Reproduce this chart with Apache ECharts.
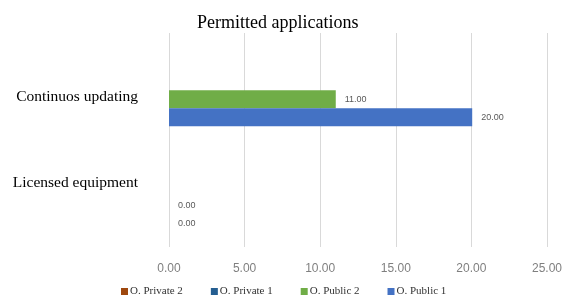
<!DOCTYPE html>
<html>
<head>
<meta charset="utf-8">
<script src="https://cdn.jsdelivr.net/npm/echarts@6/dist/echarts.min.js"></script>
<style>
  html, body { margin: 0; padding: 0; background: #fff; }
  #chart { width: 565px; height: 305px; }
</style>
</head>
<body>
<div id="chart"></div>
<script>
// categories bottom -> top (echarts order)
const categories = ['Licensed equipment', 'Continuos updating'];
const public1 = [0, 20];
const public2 = [0, 11];
const private1 = [null, null];
const private2 = [null, null];
const xTicks = { min: 0, max: 25, interval: 5 };
const legendOrder = ['O. Private 2', 'O. Private 1', 'O. Public 2', 'O. Public 1'];

let myChart = echarts.init(document.getElementById('chart'));

const valueLabel = {
    show: true,
    position: 'right',
    distance: 9,
    fontSize: 9,
    color: '#595959',
    fontFamily: 'Liberation Sans',
    formatter: p => p.value == null ? '' : Number(p.value).toFixed(2)
};

function bar(name, data, color) {
    return {
        name: name,
        type: 'bar',
        data: data,
        barWidth: 18,
        barGap: '0%',
        itemStyle: { color: color },
        label: valueLabel
    };
}

let option = {
    animation: false,
    title: {
        text: 'Permitted applications',
        left: 192,
        top: 9,
        textStyle: { fontFamily: 'Liberation Serif', fontSize: 18, fontWeight: 'normal', color: '#000' }
    },
    grid: [
        { left: 169, right: 17, top: 37, bottom: 55 },   // bars
        { left: 169, right: 17, top: 33, bottom: 58 }    // gridlines + tick labels
    ],
    xAxis: [
        {
            type: 'value', gridIndex: 0,
            min: xTicks.min, max: xTicks.max, interval: xTicks.interval,
            axisLine: { show: false }, axisTick: { show: false },
            splitLine: { show: false }, axisLabel: { show: false }
        },
        {
            type: 'value', gridIndex: 1,
            min: xTicks.min, max: xTicks.max, interval: xTicks.interval,
            axisLine: { show: false }, axisTick: { show: false },
            splitLine: { lineStyle: { color: '#d9d9d9' } },
            axisLabel: {
                margin: 16,
                fontSize: 12,
                color: '#7f7f7f',
                fontFamily: 'Liberation Sans',
                formatter: v => v.toFixed(2)
            }
        }
    ],
    yAxis: [
        {
            type: 'category', gridIndex: 0,
            data: categories,
            axisLine: { show: false },
            axisTick: { show: false },
            axisLabel: {
                margin: 31,
                fontSize: 15.5,
                color: '#000',
                fontFamily: 'Liberation Serif',
                formatter: (v, i) => i === 0 ? '{lo|' + v + '}' : '{hi|' + v + '}',
                rich: {
                    lo: { fontSize: 15.5, fontFamily: 'Liberation Serif', color: '#000', padding: [0, 0, 28, 0] },
                    hi: { fontSize: 15.5, fontFamily: 'Liberation Serif', color: '#000', padding: [14, 0, 0, 0] }
                }
            }
        },
        {
            type: 'category', gridIndex: 1,
            data: categories,
            show: false
        }
    ],
    legend: {
        data: legendOrder,
        left: 116,
        bottom: 3,
        itemWidth: 7,
        itemHeight: 7,
        itemGap: 28,
        icon: 'rect',
        textStyle: { fontFamily: 'Liberation Serif', fontSize: 11, color: '#333', padding: [0, 0, 0, -3] }
    },
    series: [
        bar('O. Private 2', private2, '#9e480e'),
        bar('O. Private 1', private1, '#255e91'),
        bar('O. Public 2', public2, '#70ad47'),
        bar('O. Public 1', public1, '#4472c4')
    ]
};

option && myChart.setOption(option);
</script>
</body>
</html>
